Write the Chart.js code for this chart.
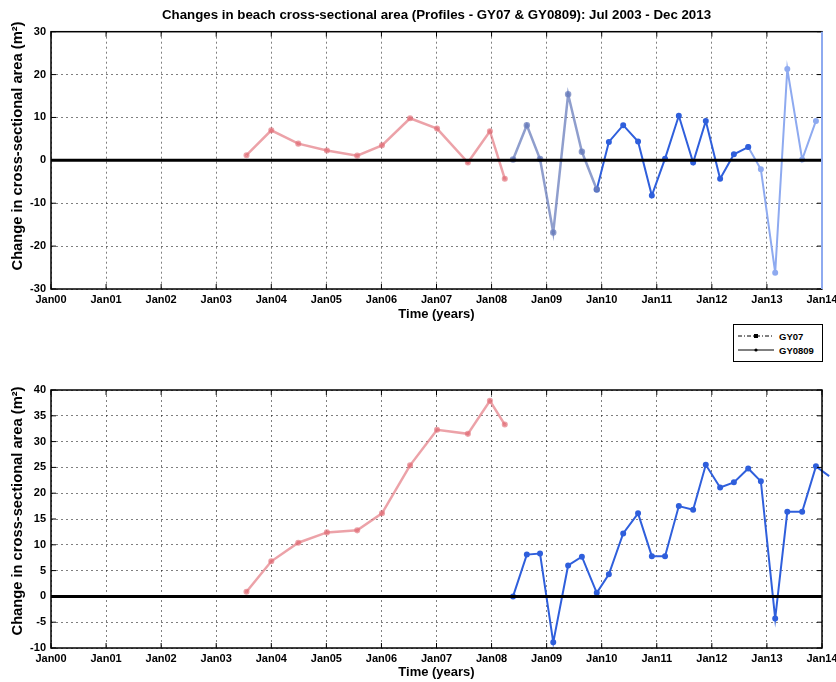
<!DOCTYPE html>
<html>
<head>
<meta charset="utf-8">
<script src="https://cdn.jsdelivr.net/npm/chart.js@4.4.1/dist/chart.umd.min.js"></script>
<style>
  body { margin: 0; background: #fff; }
  #wrap { position: relative; width: 836px; height: 682px; overflow: hidden; }
  #topChart { position: absolute; left: 0; top: 0; }
  #bottomChart { position: absolute; left: 0; top: 360px; }
  #legend {
    position: absolute; left: 733px; top: 324px; width: 88px; height: 36px;
    border: 1px solid #000; background: #fff;
    font: bold 9.5px "Liberation Sans", Arial, sans-serif; color: #000;
  }
  #legend .row { position: absolute; left: 4px; height: 12px; display: flex; align-items: center; }
  #legend svg { margin-right: 5px; }
</style>
</head>
<body>
<div id="wrap">
  <canvas id="topChart" width="836" height="330"></canvas>
  <canvas id="bottomChart" width="836" height="322"></canvas>
  <div id="legend">
    <div class="row" style="top:5px">
      <svg width="36" height="6"><line x1="0" y1="3" x2="36" y2="3" stroke="#000" stroke-width="1" stroke-dasharray="4,2,1,2"/><rect x="16" y="1" width="4" height="4" fill="#000"/></svg>GY07
    </div>
    <div class="row" style="top:19px">
      <svg width="36" height="6"><line x1="0" y1="3" x2="36" y2="3" stroke="#000" stroke-width="1"/><circle cx="18" cy="3" r="1.6" fill="#000"/></svg>GY0809
    </div>
  </div>
</div>
<script>
// x axis: years since Jan 2000
const xTickLabels = ["Jan00", "Jan01", "Jan02", "Jan03", "Jan04", "Jan05", "Jan06", "Jan07",
  "Jan08", "Jan09", "Jan10", "Jan11", "Jan12", "Jan13", "Jan14"];

// GY07 (red), roughly six-monthly surveys
const redYears = [3.55, 4.0, 4.49, 5.01, 5.56, 6.01, 6.52, 7.01, 7.57, 7.97, 8.24];
const redChange = [1.2, 7.0, 3.9, 2.3, 1.1, 3.5, 9.8, 7.4, -0.5, 6.8, -4.3];
const redCumulative = [0.9, 6.8, 10.4, 12.4, 12.8, 16.1, 25.4, 32.3, 31.5, 37.9, 33.3];

// GY0809 (blue), quarterly surveys
const blueYears = [8.39, 8.64, 8.88, 9.12, 9.39, 9.64, 9.91, 10.13, 10.39, 10.66, 10.91, 11.15,
  11.40, 11.66, 11.89, 12.15, 12.40, 12.66, 12.89, 13.15, 13.37, 13.64, 13.89, 14.13];
const blueChange = [0.2, 8.2, 0.3, -16.8, 15.4, 2.0, -6.8, 4.3, 8.2, 4.4, -8.2, 0.4,
  10.4, -0.5, 9.2, -4.3, 1.4, 3.1, -2.1, -26.2, 21.3, 0.2, 9.2];
const blueCumulative = [0.0, 8.1, 8.3, -8.9, 6.0, 7.7, 0.7, 4.3, 12.2, 16.1, 7.8, 7.8,
  17.5, 16.8, 25.5, 21.1, 22.1, 24.8, 22.3, -4.3, 16.4, 16.4, 25.2, 23.3];

const FONT = "'Liberation Sans', Arial, sans-serif";
const Y_TITLE = "Change in cross-sectional area (m²)";
Chart.defaults.font.family = FONT;
Chart.defaults.color = "#000";

function pts(xs, ys, from, to) {
  const out = [];
  for (let i = from; i < Math.min(to, ys.length); i++) out.push({ x: xs[i], y: ys[i] });
  return out;
}

function series(data, color, width, radius) {
  return {
    data: data,
    borderColor: color,
    backgroundColor: color,
    pointBackgroundColor: color,
    pointBorderColor: color,
    borderWidth: width,
    pointRadius: radius,
    pointHoverRadius: radius,
    tension: 0,
    clip: false,
  };
}

// zero line, inward ticks, the box round the plot, and the titles
const framePlugin = {
  id: "frame",
  afterDatasetsDraw(chart, args, opts) {
    const { ctx, chartArea: a, scales } = chart;
    const x = scales.x, y = scales.y;
    const line = (x1, y1, x2, y2) => { ctx.beginPath(); ctx.moveTo(x1, y1); ctx.lineTo(x2, y2); ctx.stroke(); };
    ctx.save();
    ctx.strokeStyle = "#000";
    ctx.lineWidth = 3;
    const y0 = y.getPixelForValue(0);
    line(a.left, y0, a.right, y0);
    ctx.lineWidth = 1;
    x.ticks.forEach(t => {
      const px = x.getPixelForValue(t.value);
      line(px, a.top, px, a.top + 5);
      line(px, a.bottom, px, a.bottom - 5);
    });
    y.ticks.forEach(t => {
      const py = y.getPixelForValue(t.value);
      line(a.left, py, a.left + 5, py);
      line(a.right, py, a.right - 5, py);
    });
    ctx.lineWidth = 1.5;
    ctx.strokeRect(a.left, a.top, a.right - a.left, a.bottom - a.top);
    if (opts.rightColor) {
      ctx.strokeStyle = opts.rightColor;
      ctx.lineWidth = 2;
      line(a.right, a.top, a.right, a.bottom);
    }

    ctx.fillStyle = "#000";
    ctx.textAlign = "center";
    ctx.textBaseline = "middle";
    const cx = (a.left + a.right) / 2;
    if (opts.title) {
      ctx.font = "bold 13.3px " + FONT;
      ctx.fillText(opts.title, cx, 15);
    }
    ctx.font = "bold 14.7px " + FONT;
    ctx.translate(18, opts.yTitleY);
    ctx.rotate(-Math.PI / 2);
    ctx.fillText(Y_TITLE, 0, 0);
    ctx.restore();
  }
};

function makeOptions(cfg) {
  return {
    responsive: false,
    animation: false,
    layout: { padding: { top: cfg.padTop, right: 14, bottom: 0, left: 0 } },
    plugins: {
      legend: { display: false },
      tooltip: { enabled: false },
      title: { display: false },
      frame: { rightColor: cfg.rightColor, title: cfg.title, yTitleY: cfg.yTitleY },
    },
    scales: {
      x: {
        type: "linear",
        min: 0,
        max: 14,
        ticks: {
          stepSize: 1,
          autoSkip: false,
          maxRotation: 0,
          padding: 4,
          font: { size: 11, weight: "bold" },
          callback: v => xTickLabels[v],
        },
        grid: { color: "rgba(0,0,0,0.5)", lineWidth: 1, drawTicks: false },
        border: { display: false, dash: [2, 3] },
        title: {
          display: true,
          text: "Time (years)",
          font: { size: 13, weight: "bold" },
          padding: { top: 0, bottom: cfg.xTitlePad },
        },
        afterFit: s => { s.height = cfg.xHeight; s.paddingLeft = 0; s.paddingRight = 0; },
      },
      y: {
        min: cfg.yMin,
        max: cfg.yMax,
        ticks: {
          stepSize: cfg.yStep,
          padding: 5,
          font: { size: 11, weight: "bold" },
        },
        grid: { color: "rgba(0,0,0,0.5)", lineWidth: 1, drawTicks: false },
        border: { display: false, dash: [2, 3] },
        title: { display: false },
        afterFit: s => { s.width = 51; s.paddingTop = 0; s.paddingBottom = 0; },
      },
    },
  };
}

const topChart = new Chart(document.getElementById("topChart"), {
  type: "line",
  data: {
    datasets: [
      series(pts(redYears, redChange, 0, redYears.length), "rgba(226,112,122,0.65)", 2.5, 1.8),
      series(pts(blueYears, blueChange, 0, 7), "rgba(105,125,188,0.75)", 2.5, 2),
      series(pts(blueYears, blueChange, 6, 18), "#2f5fdc", 2, 2),
      series(pts(blueYears, blueChange, 17, 23), "#8eaaf0", 2, 2),
    ],
  },
  options: makeOptions({
    title: "Changes in beach cross-sectional area (Profiles - GY07 & GY0809): Jul 2003 - Dec 2013",
    padTop: 31.7, xHeight: 41, xTitlePad: 8.2, yTitleY: 146,
    yMin: -30, yMax: 30, yStep: 10, rightColor: "#8eaaf0",
  }),
  plugins: [framePlugin],
});

const bottomChart = new Chart(document.getElementById("bottomChart"), {
  type: "line",
  data: {
    datasets: [
      series(pts(redYears, redCumulative, 0, redYears.length), "rgba(226,112,122,0.65)", 2.5, 1.8),
      series(pts(blueYears, blueCumulative, 0, blueYears.length), "#2f5fdc", 2, 2),
    ],
  },
  options: makeOptions({
    title: null,
    padTop: 30, xHeight: 34, xTitlePad: 1.5, yTitleY: 151,
    yMin: -10, yMax: 40, yStep: 5, rightColor: null,
  }),
  plugins: [framePlugin],
});
</script>
</body>
</html>
